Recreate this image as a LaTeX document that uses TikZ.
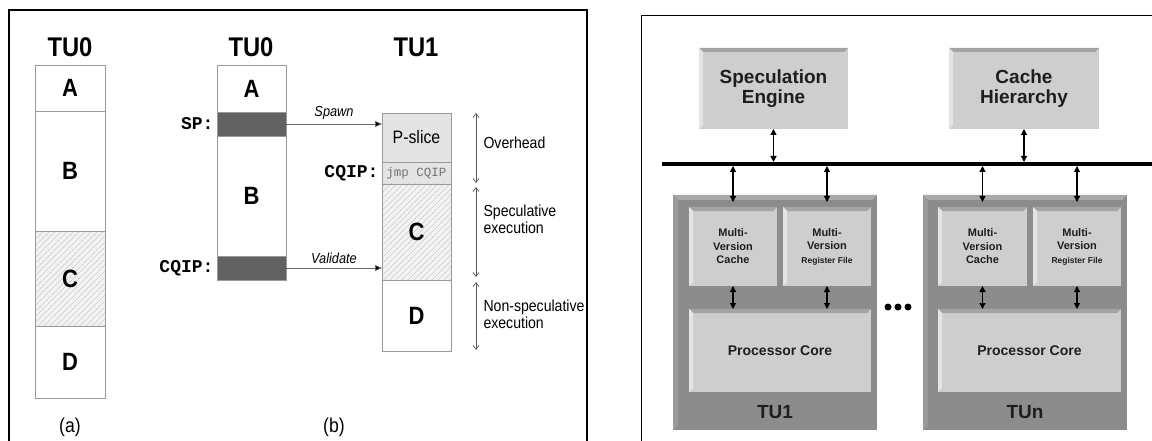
\documentclass[tikz,border=0pt]{standalone}
\usepackage{fontspec}
\setmainfont{Liberation Sans}
\newfontfamily\narrowf[FakeStretch=0.88]{Liberation Sans}
\newfontfamily\monof{Liberation Mono}
\usetikzlibrary{arrows.meta,patterns.meta}

\definecolor{edgegray}{HTML}{9A9A9A}
\definecolor{bargray}{HTML}{626262}
\definecolor{slicegray}{HTML}{E4E4E4}
\definecolor{hatchbg}{HTML}{F2F2F2}
\definecolor{hatchln}{HTML}{BDBDBD}
\definecolor{outerfill}{HTML}{8C8C8C}
\definecolor{outertop}{HTML}{A9A9A9}
\definecolor{outerleft}{HTML}{9B9B9B}
\definecolor{boxfill}{HTML}{CECECE}
\definecolor{boxtop}{HTML}{A4A4A4}
\definecolor{boxleft}{HTML}{E4E4E4}
\definecolor{inktext}{HTML}{1E1E1E}

\tikzset{
  seg/.style={draw=edgegray, line width=0.9pt, inner sep=0pt, outer sep=0pt,
    anchor=north west, font=\narrowf\bfseries\fontsize{25}{27}\selectfont},
  barseg/.style={seg, fill=bargray},
  hatchseg/.style={seg, preaction={fill=hatchbg},
    pattern={Lines[angle=45,distance=4pt,line width=0.5pt]}, pattern color=hatchln},
  colhead/.style={font=\narrowf\bfseries\fontsize{27}{29}\selectfont},
  codelbl/.style={anchor=east, font=\monof\bfseries\fontsize{18}{20}\selectfont},
  caption/.style={font=\narrowf\fontsize{20}{22}\selectfont},
  sidelbl/.style={anchor=west, align=left, font=\narrowf\fontsize{16}{17}\selectfont},
  flow/.style={draw=black!60, line width=0.8pt, -{Triangle[length=7pt,width=6pt,fill=black]}},
  spanarrow/.style={draw=black!65, line width=0.7pt,
    {Straight Barb[length=4pt,width=6pt]}-{Straight Barb[length=4pt,width=6pt]}},
  bevel/.style n args={4}{fill=#1, inner sep=0pt, outer sep=0pt, anchor=north west,
    path picture={
      \fill[#2] (path picture bounding box.north west) -- (path picture bounding box.north east)
        -- ([xshift=-#4,yshift=-#4]path picture bounding box.north east)
        -- ([xshift=#4,yshift=-#4]path picture bounding box.north west) -- cycle;
      \fill[#3] (path picture bounding box.north west)
        -- ([xshift=#4,yshift=-#4]path picture bounding box.north west)
        -- ([xshift=#4,yshift=#4]path picture bounding box.south west)
        -- (path picture bounding box.south west) -- cycle;
    }},
  unit/.style={bevel={boxfill}{boxtop}{boxleft}{4pt}, text=inktext, align=center},
  tubox/.style={bevel={outerfill}{outertop}{outerleft}{5pt}},
  dbl/.style={draw=black, line width=1.1pt,
    {Triangle[length=6pt,width=6pt]}-{Triangle[length=6pt,width=6pt]}},
  dot/.style={circle, fill=black, inner sep=0pt, minimum size=7pt}
}

\begin{document}
\begin{tikzpicture}[x=1pt, y=-1pt]
\useasboundingbox (0,0) rectangle (1152,441);

% ---------- frames ----------
\draw[line width=1.8pt] (9,445) -- (9,10) -- (587,10) -- (587,445);
\draw[line width=1pt] (641,445) -- (641,16) -- (1156,16);

% ---------- (a) sequential execution ----------
\node[colhead] (aTU) at (70,47) {TU0};
\node[seg, minimum width=70pt, minimum height=46pt] (aA) at (35,65) {A};
\node[seg, minimum width=70pt, minimum height=120pt] (aB) at (35,111) {B};
\node[hatchseg, minimum width=70pt, minimum height=95pt] (aC) at (35,231) {C};
\node[seg, minimum width=70pt, minimum height=72pt] (aD) at (35,326) {D};
\node[caption] (capa) at (70,427) {(a)};

% ---------- (b) speculative precomputation ----------
\node[colhead] (bTU0) at (251,47) {TU0};
\node[seg, minimum width=69pt, minimum height=47pt] (bA) at (217,65) {A};
\node[barseg, minimum width=69pt, minimum height=24pt] (bSP) at (217,112) {};
\node[seg, minimum width=69pt, minimum height=120pt] (bB) at (217,136) {B};
\node[barseg, minimum width=69pt, minimum height=24pt] (bCQ) at (217,256) {};
\node[codelbl] (lSP) at (bSP.west) {SP:};
\node[codelbl] (lCQ) at (bCQ.west) {CQIP:};

\node[colhead] (bTU1) at (416,47) {TU1};
\node[seg, fill=slicegray, minimum width=69pt, minimum height=49pt,
      font=\narrowf\fontsize{18}{20}\selectfont] (tP) at (382,113) {P-slice};
\node[seg, fill=slicegray, minimum width=69pt, minimum height=22pt,
      font=\monof\fontsize{12.5}{14}\selectfont, text=black!55] (tJ) at (382,162) {jmp CQIP};
\node[codelbl] (lCQ2) at (tJ.west) {CQIP:};
\node[hatchseg, minimum width=69pt, minimum height=96pt] (tC) at (382,184) {C};
\node[seg, minimum width=69pt, minimum height=71pt] (tD) at (382,280) {D};

\draw[flow] (bSP.east) -- (bSP.east -| tP.west)
  node[midway, above=1pt, font=\narrowf\itshape\fontsize{14.5}{16}\selectfont] {Spawn};
\draw[flow] (bCQ.east) -- (bCQ.east -| tC.west)
  node[midway, above=1pt, font=\narrowf\itshape\fontsize{14.5}{16}\selectfont] {Validate};

\coordinate (o1) at (476,113);
\coordinate (o2) at (476,183);
\coordinate (s1) at (476,187);
\coordinate (s2) at (476,277);
\coordinate (n1) at (476,282);
\coordinate (n2) at (476,350);
\draw[spanarrow] (o1) -- (o2);
\draw[spanarrow] (s1) -- (s2);
\draw[spanarrow] (n1) -- (n2);
\node[sidelbl] (lo) at (480,143) {Overhead};
\node[sidelbl] (ls) at (480,219) {Speculative\\execution};
\node[sidelbl] (ln) at (480,314) {Non-speculative\\execution};
\node[caption] (capb) at (334,427) {(b)};

% ---------- right: speculative multithreading architecture ----------
\node[bevel={boxfill}{boxtop}{boxleft}{4pt}, minimum width=149pt, minimum height=81pt,
      align=center, text=inktext, font=\bfseries\fontsize{19}{20}\selectfont]
      (se) at (699,48) {Speculation\\Engine};
\node[bevel={boxfill}{boxtop}{boxleft}{4pt}, minimum width=150pt, minimum height=81pt,
      align=center, text=inktext, font=\bfseries\fontsize{19}{20}\selectfont]
      (ch) at (949,48) {Cache\\Hierarchy};

\coordinate (busL) at (662,164);
\coordinate (busR) at (1152,164);
\draw[line width=4pt] (busL) -- (busR);

% thread unit 1
\node[tubox, minimum width=204pt, minimum height=235pt] (tu1) at (673,195) {};
\node[unit, minimum width=88pt, minimum height=79pt, font=\bfseries\fontsize{11}{13.5}\selectfont]
      (mvc1) at (689,207) {Multi-\\Version\\Cache};
\node[unit, minimum width=88pt, minimum height=79pt, font=\bfseries\fontsize{11}{13.5}\selectfont]
      (mvr1) at (783,207) {Multi-\\Version\\{\fontsize{8.5}{13.5}\selectfont Register File}};
\node[unit, minimum width=182pt, minimum height=83pt, font=\bfseries\fontsize{14}{16}\selectfont]
      (pc1) at (689,309) {Processor Core};
\node[text=inktext, font=\bfseries\fontsize{19}{20}\selectfont] (tu1lbl) at (775,412) {TU1};

% thread unit n
\node[tubox, minimum width=204pt, minimum height=235pt] (tun) at (923,195) {};
\node[unit, minimum width=89pt, minimum height=79pt, font=\bfseries\fontsize{11}{13.5}\selectfont]
      (mvcn) at (938,207) {Multi-\\Version\\Cache};
\node[unit, minimum width=88pt, minimum height=79pt, font=\bfseries\fontsize{11}{13.5}\selectfont]
      (mvrn) at (1033,207) {Multi-\\Version\\{\fontsize{8.5}{13.5}\selectfont Register File}};
\node[unit, minimum width=183pt, minimum height=83pt, font=\bfseries\fontsize{14}{16}\selectfont]
      (pcn) at (938,309) {Processor Core};
\node[text=inktext, font=\bfseries\fontsize{19}{20}\selectfont] (tunlbl) at (1025,412) {TUn};

% ellipsis between thread units
\node[dot] (d1) at (888,307) {};
\node[dot] (d2) at (898,307) {};
\node[dot] (d3) at (908,307) {};

% bus connections
\draw[dbl, shorten >=2pt] (se.south) -- (se.south |- busL);
\draw[dbl, shorten >=2pt] (ch.south) -- (ch.south |- busL);
\draw[dbl, shorten <=2pt, shorten >=5pt] (mvc1.north |- busL) -- (mvc1.north);
\draw[dbl, shorten <=2pt, shorten >=5pt] (mvr1.north |- busL) -- (mvr1.north);
\draw[dbl, shorten <=2pt, shorten >=5pt] (mvcn.north |- busL) -- (mvcn.north);
\draw[dbl, shorten <=2pt, shorten >=5pt] (mvrn.north |- busL) -- (mvrn.north);

% unit-to-core connections
\draw[dbl] (mvc1.south) -- (mvc1.south |- pc1.north);
\draw[dbl] (mvr1.south) -- (mvr1.south |- pc1.north);
\draw[dbl] (mvcn.south) -- (mvcn.south |- pcn.north);
\draw[dbl] (mvrn.south) -- (mvrn.south |- pcn.north);
\end{tikzpicture}
\end{document}
